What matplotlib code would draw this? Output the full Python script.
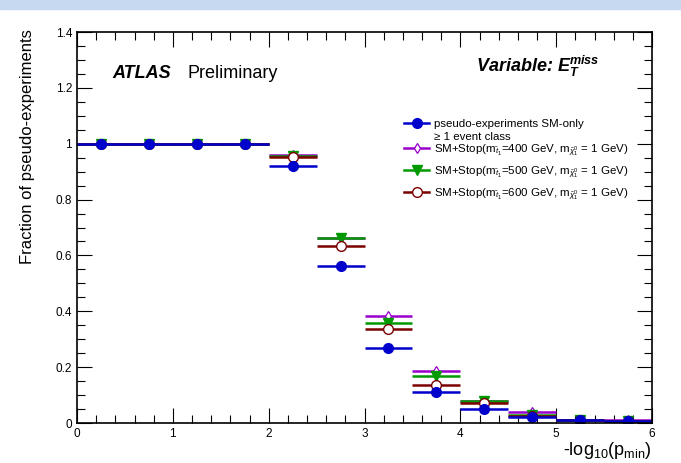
import numpy as np
import matplotlib
matplotlib.use("Agg")
import matplotlib.pyplot as plt
from matplotlib.lines import Line2D
from matplotlib.patches import Rectangle
from matplotlib.ticker import MultipleLocator

plt.rcParams['font.family'] = ['Liberation Sans', 'DejaVu Sans']
plt.rcParams['mathtext.fontset'] = 'custom'
plt.rcParams['mathtext.rm'] = 'Liberation Sans'
plt.rcParams['mathtext.it'] = 'Liberation Sans:italic'
plt.rcParams['mathtext.bf'] = 'Liberation Sans:bold'
plt.rcParams['mathtext.bfit'] = 'Liberation Sans:italic:bold'

# bins of -log10(p_min), width 0.5
bin_centers = [0.25, 0.75, 1.25, 1.75, 2.25, 2.75, 3.25, 3.75, 4.25, 4.75, 5.25, 5.75]
bin_halfwidth = 0.25

sm_only = [1.0, 1.0, 1.0, 1.0, 0.921, 0.561, 0.269, 0.112, 0.050, 0.020, 0.010, 0.008]
stop_400 = [1.0, 1.0, 1.0, 1.0, 0.960, 0.664, 0.383, 0.186, 0.079, 0.038, 0.012, 0.010]
stop_500 = [1.0, 1.0, 1.0, 1.0, 0.955, 0.661, 0.358, 0.168, 0.079, 0.030, 0.010, 0.008]
stop_600 = [1.0, 1.0, 1.0, 1.0, 0.951, 0.632, 0.335, 0.135, 0.070, 0.025, 0.010, 0.008]

sm_labels = ["pseudo-experiments SM-only", "\u2265 1 event class"]
stop_labels = [
    r"SM+Stop(m$_{\tilde{t}_1}$=400 GeV, m$_{\tilde{\chi}^0_1}$ = 1 GeV)",
    r"SM+Stop(m$_{\tilde{t}_1}$=500 GeV, m$_{\tilde{\chi}^0_1}$ = 1 GeV)",
    r"SM+Stop(m$_{\tilde{t}_1}$=600 GeV, m$_{\tilde{\chi}^0_1}$ = 1 GeV)",
]

c_blue = "#0000cc"
c_purple = "#9900cc"
c_green = "#009900"
c_red = "#7a0000"

fig = plt.figure(figsize=(6.81, 4.63), dpi=100)
fig.patches.append(Rectangle((0, 1 - 9 / 463), 1, 9 / 463, transform=fig.transFigure,
                             color="#c6d9f0", zorder=0))
ax = fig.add_axes([77 / 681, 1 - 423 / 463, 575 / 681, 391 / 463])

mk_blue = dict(marker='o', ms=7, mfc=c_blue, mec=c_blue)
mk_purple = dict(marker='d', ms=5.5, mfc='white', mec=c_purple, mew=0.9)
mk_green = dict(marker='v', ms=6.5, mfc=c_green, mec=c_green)
mk_red = dict(marker='o', ms=7, mfc='white', mec=c_red, mew=1.0)

series = [
    (stop_400, c_purple, mk_purple),
    (stop_500, c_green, mk_green),
    (stop_600, c_red, mk_red),
    (sm_only, c_blue, mk_blue),
]
for vals, col, mk in series:
    ax.errorbar(bin_centers, vals, xerr=bin_halfwidth, fmt='none', ecolor=col,
                elinewidth=1.8, capsize=0)
    ax.plot(bin_centers, vals, linestyle='none', **mk)

ax.set_xlim(0, 6)
ax.set_ylim(0, 1.4)
ax.xaxis.set_major_locator(MultipleLocator(1))
ax.xaxis.set_minor_locator(MultipleLocator(0.2))
ax.yaxis.set_minor_locator(MultipleLocator(0.05))
ax.set_yticks([0, 0.2, 0.4, 0.6, 0.8, 1.0, 1.2, 1.4])
ax.set_yticklabels(["0", "0.2", "0.4", "0.6", "0.8", "1", "1.2", "1.4"])
ax.tick_params(which='both', direction='in', top=True, right=True, labelsize=8.5, width=0.8)
ax.tick_params(which='major', length=11)
ax.tick_params(which='minor', length=5.5)
for sp in ax.spines.values():
    sp.set_linewidth(1.2)

# legend, split in two blocks to mimic the ROOT spacing
leg_x = (404 - 77) / 575
h_sm = [Line2D([], [], color=c_blue, lw=1.8, **mk_blue), Line2D([], [], color='none')]
leg1 = ax.legend(h_sm, sm_labels, loc='upper left', bbox_to_anchor=(leg_x, 1 - 87 / 391),
                 frameon=False, fontsize=8.25, handlelength=2.2, handletextpad=0.45,
                 labelspacing=0.3, borderaxespad=0, borderpad=0)
ax.add_artist(leg1)
h_stop = [
    Line2D([], [], color=c_purple, lw=1.8, **mk_purple),
    Line2D([], [], color=c_green, lw=1.8, **mk_green),
    Line2D([], [], color=c_red, lw=1.8, **mk_red),
]
ax.legend(h_stop, stop_labels, loc='upper left', bbox_to_anchor=(leg_x, 1 - 110 / 391),
          frameon=False, fontsize=8.25, handlelength=2.2, handletextpad=0.45,
          labelspacing=0.55, borderaxespad=0, borderpad=0)

fig.text(112 / 681, 1 - 73 / 463, "ATLAS", fontsize=13, fontweight='bold',
         fontstyle='italic', va='center', ha='left')
fig.text(187 / 681, 1 - 73 / 463, "Preliminary", fontsize=13, va='center', ha='left')
fig.text(600 / 681, 1 - 72 / 463,
         r"Variable: $\mathbfit{E}_{\mathbfit{T}}^{\mathbfit{miss}}$",
         fontsize=13, fontweight='bold', fontstyle='italic', ha='right', va='baseline')

fig.text(28 / 681, 1 - 29 / 463, "Fraction of pseudo-experiments", rotation=90,
         fontsize=12, ha='center', va='top')
fig.text(652 / 681, 1 - 455 / 463, r"-log$_{10}$(p$_{\mathrm{min}}$)", fontsize=13,
         ha='right', va='baseline')

fig.savefig("out.png", dpi=100)
